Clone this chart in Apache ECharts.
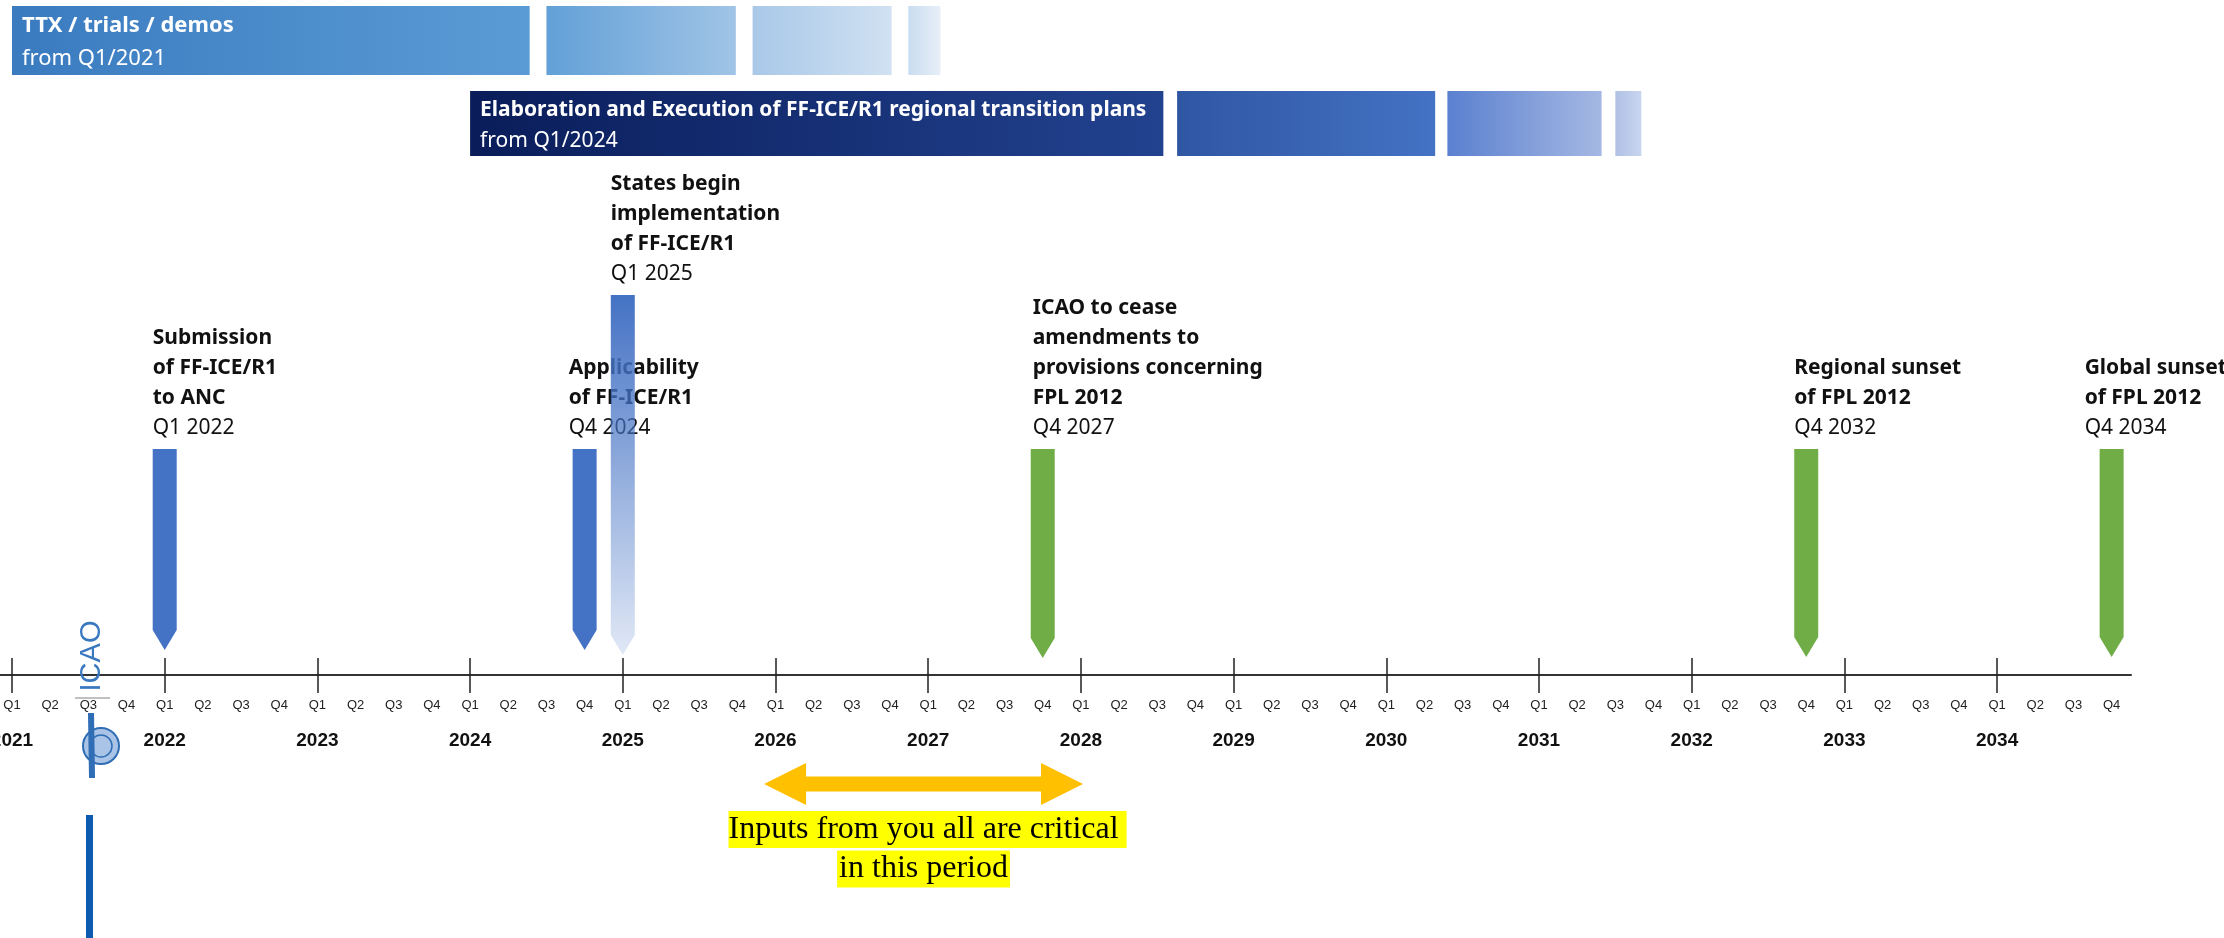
<!DOCTYPE html>
<html>
<head>
<meta charset="utf-8">
<script src="https://cdn.jsdelivr.net/npm/echarts@6/dist/echarts.min.js"></script>
<style>
html,body{margin:0;padding:0;background:#ffffff;}
#chart{width:2224px;height:938px;}
</style>
</head>
<body>
<div id="chart"></div>
<script>
// ================= DATA =================
const yearLabels = ['2021','2022','2023','2024','2025','2026','2027','2028','2029','2030','2031','2032','2033','2034'];
const quarterLabels = ['Q1','Q2','Q3','Q4'];

// phase bars (start, end in years; fading segments)
const ttxSegments = [[2021.0, 2024.39], [2024.50, 2025.74], [2025.85, 2026.76], [2026.87, 2027.08]];
const transitionSegments = [[2024.0, 2028.54], [2028.63, 2030.32], [2030.40, 2031.41], [2031.50, 2031.67]];
const phaseTitles = ['TTX / trials / demos', 'Elaboration and Execution of FF-ICE/R1 regional transition plans'];
const phaseStarts = ['from Q1/2021', 'from Q1/2024'];

// milestones
const milestoneDates = [2022.0, 2024.75, 2025.0, 2027.75, 2032.75, 2034.75];
const milestoneTitles = [
  ['Submission', 'of FF-ICE/R1', 'to ANC'],
  ['Applicability', 'of FF-ICE/R1'],
  ['States begin', 'implementation', 'of FF-ICE/R1'],
  ['ICAO to cease', 'amendments to', 'provisions concerning', 'FPL 2012'],
  ['Regional sunset', 'of FPL 2012'],
  ['Global sunset', 'of FPL 2012']
];
const milestoneLabels = ['Q1 2022', 'Q4 2024', 'Q1 2025', 'Q4 2027', 'Q4 2032', 'Q4 2034'];

// critical input period
const criticalPeriod = [2025.925, 2028.014];
const criticalNote = ['Inputs from you all are critical ', 'in this period'];

// ================= LAYOUT / STYLE =================
const PX_PER_YEAR = 152.7;
const X0 = 12;            // pixel of Q1 2021
const AXIS_END = 2131;    // right end of the axis line
const AXIS_Y = 675;       // pixel row of the axis line
const xMin = 2021 - X0 / PX_PER_YEAR;
const xMax = 2021 + (AXIS_END - X0) / PX_PER_YEAR;
const up = px => AXIS_Y - px;   // pixel row -> y units (above axis)

const yearValues = yearLabels.map(Number);
const quarterValues = [];
yearValues.forEach(y => { for (let q = 0; q < 4; q++) quarterValues.push(y + q / 4); });

const CAL = '"Noto Sans", "Open Sans", sans-serif';
const ROWS = [
  {top: 6, bottom: 75, t1: 26, t2: 59, fs: 22},
  {top: 91, bottom: 156, t1: 110, t2: 141, fs: 21}
];
const SEG_COLORS = [
  [['#3a7bc0', '#5b9bd5'], ['#62a0d7', '#a0c4e6'], ['#a9c8e8', '#d0e1f2'], ['#c9dcf0', '#e7eff8']],
  [['#0a1d5a', '#22428f'], ['#2f56a3', '#4472c4'], ['#5a80cf', '#a5b8e3'], ['#b0c1e6', '#c9d5ef']]
];
const MS_STYLE = ['blue', 'blue', 'fade', 'green', 'green', 'green'];
const MS_TOP = [449, 449, 295, 449, 449, 449];
const MS_TIP = [650, 650, 655, 658, 657, 657];
const MS_TEXT_DX = [0, -4, 0, 2, 0, -15];
const MS_FONT = 21;

function arrowFill(kind) {
  if (kind === 'green') return '#70AD47';
  if (kind === 'blue') return '#4472C4';
  return new echarts.graphic.LinearGradient(0, 0, 0, 1, [
    {offset: 0, color: 'rgba(68,114,196,1)'},
    {offset: 1, color: 'rgba(68,114,196,0.16)'}
  ]);
}

const segData = [];
ttxSegments.forEach((s, i) => segData.push([s[0], s[1], 0, i]));
transitionSegments.forEach((s, i) => segData.push([s[0], s[1], 1, i]));

const chart = echarts.init(document.getElementById('chart'), null, {renderer: 'canvas'});

const option = {
  animation: false,
  backgroundColor: '#ffffff',
  grid: {left: 0, top: 0, width: AXIS_END, height: AXIS_Y, containLabel: false, outerBoundsMode: 'none'},
  xAxis: [
    {
      type: 'value', min: xMin, max: xMax, position: 'bottom',
      axisLine: {show: true, lineStyle: {color: '#333', width: 2}},
      axisTick: {show: true, inside: false, length: 18, customValues: yearValues, lineStyle: {color: '#222', width: 1.5}},
      axisLabel: {
        show: true, customValues: yearValues, margin: 56,
        formatter: v => yearLabels[yearValues.indexOf(Math.round(v))] || '',
        fontSize: 19, fontWeight: 'bold', color: '#111', fontFamily: '"Liberation Sans", Arial, sans-serif'
      },
      splitLine: {show: false}
    },
    {
      type: 'value', min: xMin, max: xMax, position: 'bottom',
      axisLine: {show: false},
      axisTick: {show: true, inside: true, length: 17, customValues: yearValues, lineStyle: {color: '#222', width: 1.5}},
      axisLabel: {
        show: true, customValues: quarterValues, margin: 24,
        formatter: v => quarterLabels[Math.round((v - Math.floor(v + 1e-6)) * 4) % 4],
        fontSize: 13, color: '#222', fontFamily: '"Liberation Sans", Arial, sans-serif'
      },
      splitLine: {show: false}
    }
  ],
  yAxis: {type: 'value', min: 0, max: AXIS_Y, show: false, splitLine: {show: false}},
  series: [
    {
      type: 'custom', name: 'phases', coordinateSystem: 'cartesian2d', xAxisIndex: 0, yAxisIndex: 0,
      data: segData, clip: false,
      renderItem: function (params, api) {
        const s = api.value(0), e = api.value(1), row = api.value(2), seg = api.value(3);
        const R = ROWS[row];
        const p0 = api.coord([s, up(R.top)]);
        const p1 = api.coord([e, up(R.bottom)]);
        const c = SEG_COLORS[row][seg];
        const children = [{
          type: 'rect',
          shape: {x: p0[0], y: p0[1], width: p1[0] - p0[0], height: p1[1] - p0[1]},
          style: {fill: new echarts.graphic.LinearGradient(0, 0, 1, 0, [{offset: 0, color: c[0]}, {offset: 1, color: c[1]}])}
        }];
        if (seg === 0) {
          children.push({type: 'text', x: p0[0] + 10, y: api.coord([s, up(R.t1)])[1],
            style: {text: phaseTitles[row], fill: '#ffffff', font: 'bold ' + R.fs + 'px ' + CAL, align: 'left', verticalAlign: 'middle'}});
          children.push({type: 'text', x: p0[0] + 10, y: api.coord([s, up(R.t2)])[1],
            style: {text: phaseStarts[row], fill: '#ffffff', font: R.fs + 'px ' + CAL, align: 'left', verticalAlign: 'middle'}});
        }
        return {type: 'group', children: children};
      }
    },
    {
      type: 'custom', name: 'milestones', coordinateSystem: 'cartesian2d', xAxisIndex: 0, yAxisIndex: 0,
      data: milestoneDates.map((d, i) => [d, i]), clip: false,
      renderItem: function (params, api) {
        const v = api.value(0), i = api.value(1);
        const cx = api.coord([v, 0])[0];
        const top = api.coord([v, up(MS_TOP[i])])[1];
        const tip = api.coord([v, up(MS_TIP[i])])[1];
        const hw = 12, tipLen = 20;
        const children = [];
        const lines = milestoneTitles[i].concat([milestoneLabels[i]]);
        const n = lines.length;
        const tx = cx - hw + MS_TEXT_DX[i];
        lines.forEach((ln, k) => {
          children.push({type: 'text', x: tx, y: top - 21 - 30 * (n - 1 - k),
            style: {text: ln, fill: '#111', font: (k < n - 1 ? 'bold ' : '') + MS_FONT + 'px ' + CAL, align: 'left', verticalAlign: 'middle'}});
        });
        children.push({
          type: 'polygon',
          shape: {points: [[cx - hw, top], [cx + hw, top], [cx + hw, tip - tipLen], [cx, tip], [cx - hw, tip - tipLen]]},
          style: {fill: arrowFill(MS_STYLE[i])}
        });
        return {type: 'group', children: children};
      }
    },
    {
      type: 'custom', name: 'critical', coordinateSystem: 'cartesian2d', xAxisIndex: 0, yAxisIndex: 0,
      data: [[criticalPeriod[0], criticalPeriod[1]]], clip: false,
      renderItem: function (params, api) {
        const l = api.coord([api.value(0), up(784)]);
        const r = api.coord([api.value(1), up(784)]);
        const L = l[0], R = r[0], cy = l[1];
        const hl = 42, hh = 21, sh = 7.5;
        const pts = [[L, cy], [L + hl, cy - hh], [L + hl, cy - sh], [R - hl, cy - sh], [R - hl, cy - hh], [R, cy],
          [R - hl, cy + hh], [R - hl, cy + sh], [L + hl, cy + sh], [L + hl, cy + hh]];
        const mid = (L + R) / 2;
        return {type: 'group', children: [
          {type: 'polygon', shape: {points: pts}, style: {fill: '#FFC000'}},
          {type: 'text', x: mid + 4, y: cy + 45.5,
            style: {text: criticalNote[0], fill: '#000', font: '32px "Liberation Serif", "Times New Roman", serif',
              align: 'center', verticalAlign: 'middle', backgroundColor: '#FFFF00', padding: [2, 0, 3, 0]}},
          {type: 'text', x: mid, y: cy + 85,
            style: {text: criticalNote[1], fill: '#000', font: '32px "Liberation Serif", "Times New Roman", serif',
              align: 'center', verticalAlign: 'middle', backgroundColor: '#FFFF00', padding: [2, 2, 3, 2]}}
        ]};
      }
    }
  ],
  graphic: [
    {type: 'text', x: 92, y: 656, rotation: Math.PI / 2, z: 10,
      style: {text: 'ICAO', fill: '#3a78c0', font: '29px "Liberation Sans", Arial, sans-serif', align: 'center', verticalAlign: 'middle'}},
    {type: 'line', z: 10, shape: {x1: 75, y1: 698, x2: 110, y2: 698}, style: {stroke: '#c0c0c0', lineWidth: 2}},
    {type: 'circle', z: 10, shape: {cx: 101, cy: 746, r: 18}, style: {fill: '#a9c4e6', stroke: '#2f6db5', lineWidth: 2}},
    {type: 'circle', z: 10, shape: {cx: 101, cy: 746, r: 11}, style: {fill: 'none', stroke: '#2f6db5', lineWidth: 1.5}},
    {type: 'polygon', z: 11, shape: {points: [[88, 713], [94, 713], [95, 778], [89, 778]]}, style: {fill: '#2f6db5'}},
    {type: 'rect', z: 10, shape: {x: 86, y: 815, width: 7, height: 123}, style: {fill: '#0d5bb0'}}
  ]
};
chart.setOption(option);
</script>
</body>
</html>
